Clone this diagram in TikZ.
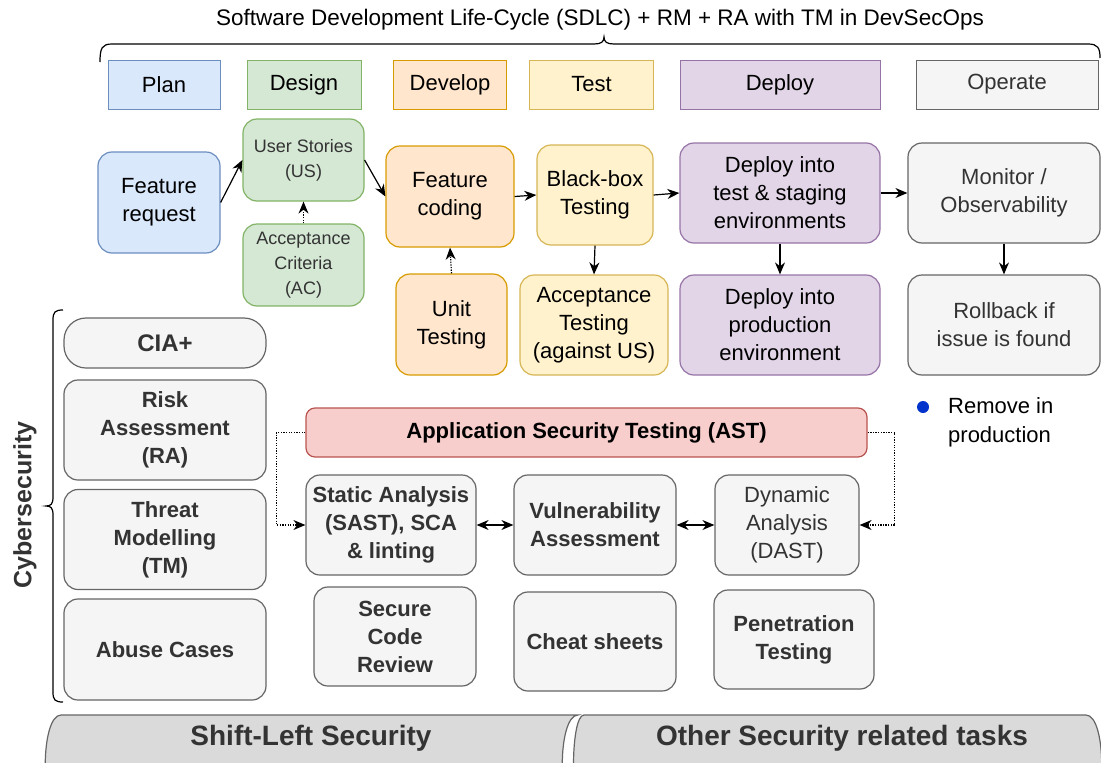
\documentclass[tikz,border=0pt]{standalone}
\usepackage{fontspec}
\setmainfont{Liberation Sans}
\usetikzlibrary{arrows.meta}
\definecolor{blueF}{HTML}{DAE8FC}\definecolor{blueD}{HTML}{6C8EBF}
\definecolor{greenF}{HTML}{D5E8D4}\definecolor{greenD}{HTML}{82B366}
\definecolor{orangeF}{HTML}{FFE6CC}\definecolor{orangeD}{HTML}{D79B00}
\definecolor{yellowF}{HTML}{FFF2CC}\definecolor{yellowD}{HTML}{D6B656}
\definecolor{purpleF}{HTML}{E1D5E7}\definecolor{purpleD}{HTML}{9673A6}
\definecolor{grayF}{HTML}{F5F5F5}\definecolor{grayD}{HTML}{666666}
\definecolor{redF}{HTML}{F8CECC}\definecolor{redD}{HTML}{B85450}
\definecolor{txtG}{HTML}{333333}
\definecolor{botF}{HTML}{DADADA}
\definecolor{bulletB}{HTML}{0033CC}
\newcommand\fsz[2]{\fontsize{#1}{#2}\selectfont}
\tikzset{
  box/.style={draw, rounded corners=14pt, line width=1.2pt, align=center, inner sep=0pt, font=\fsz{22}{28}},
  phase/.style={draw, line width=1pt, align=center, inner sep=0pt, font=\fsz{22}{26}, minimum height=49pt},
  cblue/.style={fill=blueF, draw=blueD},
  cgreen/.style={fill=greenF, draw=greenD},
  corange/.style={fill=orangeF, draw=orangeD},
  cyellow/.style={fill=yellowF, draw=yellowD},
  cpurple/.style={fill=purpleF, draw=purpleD},
  cgray/.style={fill=grayF, draw=grayD},
  cred/.style={fill=redF, draw=redD},
  secbox/.style={box, cgray, text=txtG, font=\bfseries\fsz{22}{28}},
  arr/.style={-{Stealth[length=12pt,width=10pt]}, line width=1.2pt},
  dotarr/.style={-{Stealth[length=12pt,width=10pt]}, line width=1.2pt, dash pattern=on 1.3pt off 1.3pt},
  dblarr/.style={{Stealth[length=12pt,width=10pt]}-{Stealth[length=12pt,width=10pt]}, line width=1.2pt},
  botshape/.style={fill=botF, draw=grayD, line width=1.2pt},
}
\begin{document}
\begin{tikzpicture}[x=1pt,y=-1pt]
\useasboundingbox (0,0) rectangle (1101,763);
\begin{scope}
\clip (0,0) rectangle (1101,763);
% bottom shapes
\path[botshape] (61,715) -- (578,715) .. controls (557,715) and (557,815) .. (578,815) -- (61,815) .. controls (40,815) and (40,715) .. (61,715) -- cycle;
\path[botshape] (584,715) -- (1086,715) .. controls (1107,715) and (1107,815) .. (1086,815) -- (584,815) .. controls (570,815) and (570,715) .. (584,715) -- cycle;
\end{scope}
\node[font=\bfseries\fsz{28}{32}, text=txtG] (shl) at (311,738) {Shift-Left Security};
\node[font=\bfseries\fsz{28}{32}, text=txtG] (oth) at (842,738) {Other Security related tasks};

% title and brace
\node[font=\fsz{22.5}{26}] (title) at (600,20) {Software Development Life-Cycle (SDLC) + RM + RA with TM in DevSecOps};
\draw[line width=1.2pt] (100,62) .. controls (100,48) and (102,44) .. (112,44) -- (594,44) .. controls (601,44) and (604,42) .. (604,37) .. controls (604,42) and (607,44) .. (614,44) -- (1088,44) .. controls (1098,44) and (1100,48) .. (1100,58);

% phases
\node[phase, cblue, minimum width=112pt] (plan) at (164,84.5) {Plan};
\node[phase, cgreen, minimum width=114pt] (design) at (304,84.5) {Design};
\node[phase, corange, minimum width=113pt] (develop) at (450,84.5) {Develop};
\node[phase, cyellow, minimum width=124pt] (test) at (591.5,84.5) {Test};
\node[phase, cpurple, minimum width=200pt] (deploy) at (780,84.5) {Deploy};
\node[phase, cgray, minimum width=182pt, text=txtG] (operate) at (1007,84.5) {Operate};

% SDLC nodes
\node[box, cblue, minimum width=122pt, minimum height=101pt] (fr) at (159,202.5) {Feature\\request};
\node[box, cgreen, minimum width=121pt, minimum height=82pt, font=\fsz{18}{25}, text=txtG] (us) at (303.5,160) {User Stories\\(US)};
\node[box, cgreen, minimum width=121pt, minimum height=82pt, font=\fsz{18}{25}, text=txtG] (ac) at (303.5,265) {Acceptance\\Criteria\\(AC)};
\node[box, corange, minimum width=128pt, minimum height=101pt] (fc) at (450,196.5) {Feature\\coding};
\node[box, corange, minimum width=111pt, minimum height=101pt] (ut) at (451.5,324.5) {Unit\\Testing};
\node[box, cyellow, minimum width=116pt, minimum height=100pt] (bb) at (595,195) {Black-box\\Testing};
\node[box, cyellow, minimum width=148pt, minimum height=100pt] (at) at (594,325) {Acceptance\\Testing\\(against US)};
\node[box, cpurple, minimum width=200pt, minimum height=100pt] (dt) at (780,193) {Deploy into\\test \& staging\\environments};
\node[box, cpurple, minimum width=200pt, minimum height=100pt] (dp) at (780,325) {Deploy into\\production\\environment};
\node[box, cgray, minimum width=192pt, minimum height=100pt, text=txtG] (mon) at (1004,193) {Monitor /\\Observability};
\node[box, cgray, minimum width=192pt, minimum height=100pt, text=txtG] (rb) at (1004,325) {Rollback if\\issue is found};

\draw[arr] (fr.east) -- (us.west);
\draw[arr] (us.east) -- (fc.west);
\draw[dotarr] (ac.north) -- (us.south);
\draw[dotarr] (ut.north) -- (fc.south);
\draw[arr] (fc.east) -- (bb.west);
\draw[arr] (bb.east) -- (dt.west);
\draw[arr] (bb.south) -- (at.north);
\draw[arr] (dt.south) -- (dp.north);
\draw[arr] (dt.east) -- (mon.west);
\draw[arr] (mon.south) -- (rb.north);

% Cybersecurity column
\node[rotate=90, font=\bfseries\fsz{25}{28}, text=txtG] (cyb) at (25,505) {Cybersecurity};
\draw[line width=1.2pt] (63,310) .. controls (55,310) and (53,312) .. (53,320) -- (53,497) .. controls (53,504) and (51,506) .. (46,506) .. controls (51,506) and (53,508) .. (53,515) -- (53,692) .. controls (53,700) and (55,702) .. (63,702);
\node[secbox, minimum width=202pt, minimum height=50pt, rounded corners=22pt, font=\bfseries\fsz{24}{28}] (cia) at (165,343) {CIA+};
\node[secbox, minimum width=202pt, minimum height=100pt] (ra) at (165,430) {Risk\\Assessment\\(RA)};
\node[secbox, minimum width=202pt, minimum height=100pt] (tm) at (165,539.5) {Threat\\Modelling\\(TM)};
\node[secbox, minimum width=202pt, minimum height=101pt] (abuse) at (165,649.5) {Abuse Cases};

% AST
\node[box, cred, minimum width=561pt, minimum height=49pt, rounded corners=9pt, font=\bfseries\fsz{22}{26}] (ast) at (586.5,432.5) {Application Security Testing (AST)};
\node[secbox, minimum width=170pt, minimum height=100pt] (sa) at (391,525) {Static Analysis\\(SAST), SCA\\\& linting};
\node[secbox, minimum width=162pt, minimum height=100pt] (va) at (595,525) {Vulnerability\\Assessment};
\node[box, cgray, text=txtG, minimum width=144pt, minimum height=100pt] (da) at (787,525) {Dynamic\\Analysis\\(DAST)};
\node[secbox, minimum width=162pt, minimum height=99pt] (scr) at (395,636.5) {Secure\\Code\\Review};
\node[secbox, minimum width=162pt, minimum height=99pt] (cs) at (595,641.5) {Cheat sheets};
\node[secbox, minimum width=160pt, minimum height=99pt] (pt) at (794,639.5) {Penetration\\Testing};

\draw[dotarr] (ast.west) -- ++(-29,0) |- (sa.west);
\draw[dotarr] (ast.east) -- ++(27,0) |- (da.east);
\draw[dblarr] (sa.east) -- (va.west);
\draw[dblarr] (va.east) -- (da.west);

% note
\fill[bulletB] (923,407) circle (6pt);
\node[anchor=west, align=left, font=\fsz{22}{29}, inner sep=0pt] (note) at (948,422) {Remove in\\production};
\end{tikzpicture}
\end{document}
